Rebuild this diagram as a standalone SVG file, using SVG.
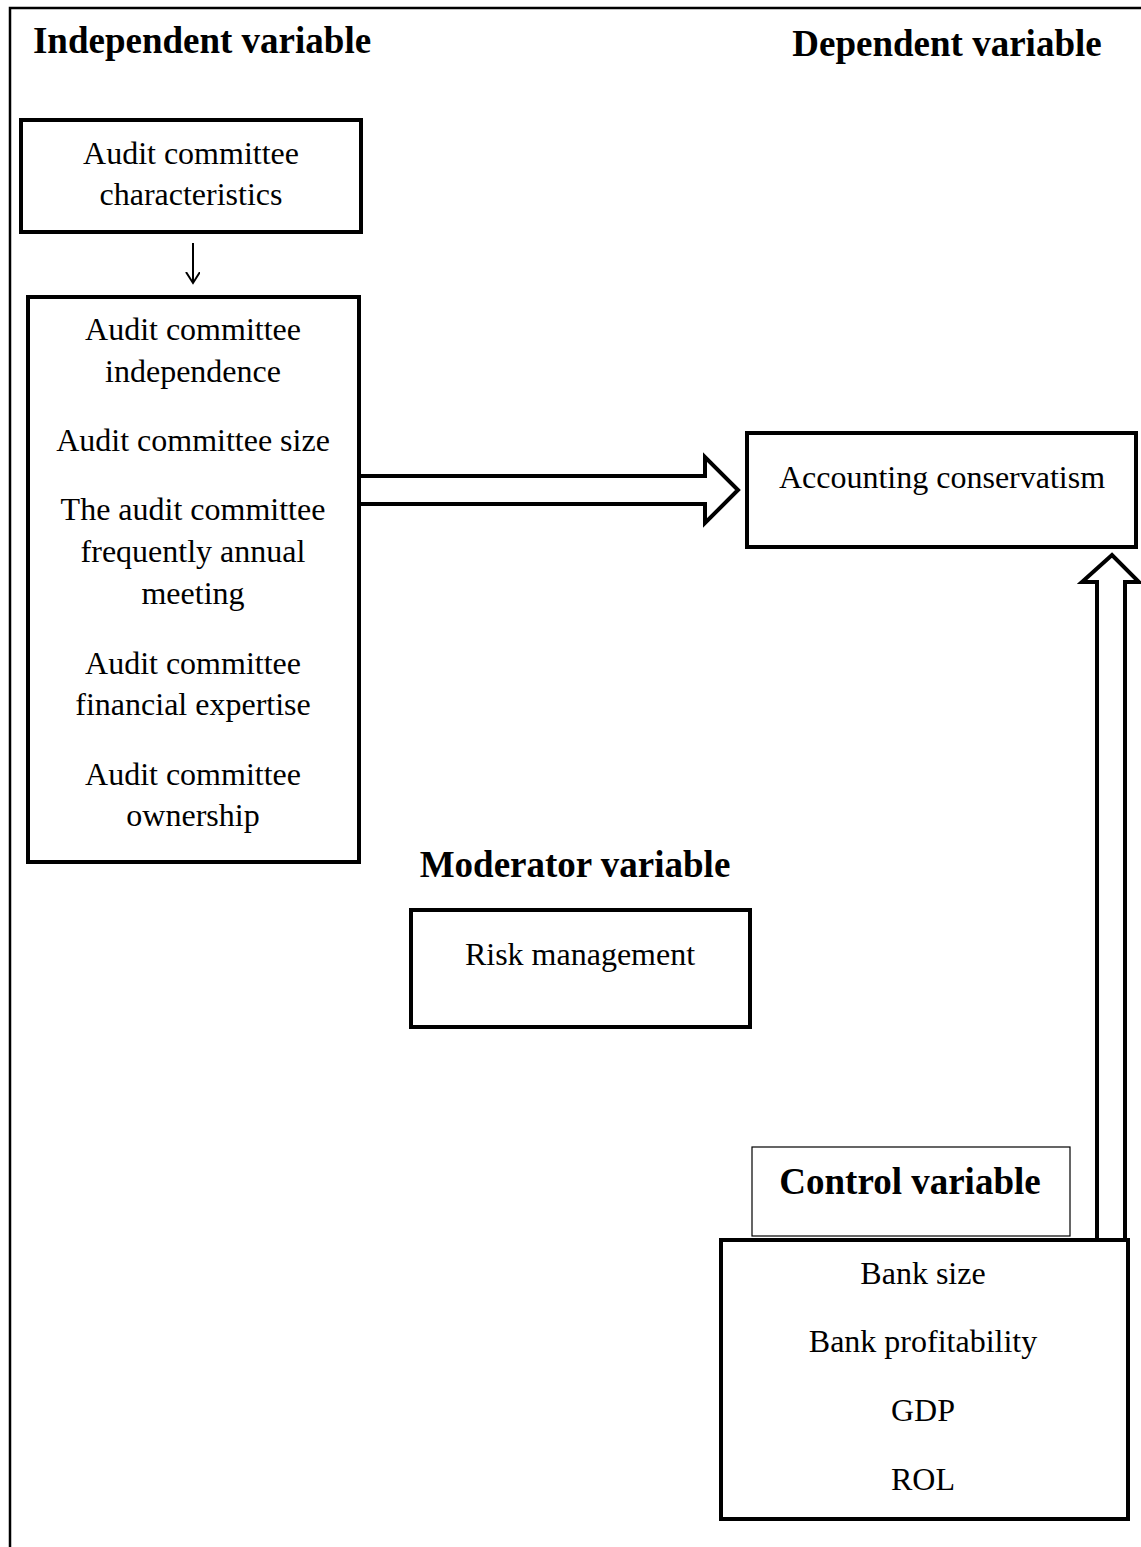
<svg xmlns="http://www.w3.org/2000/svg" width="1141" height="1547" viewBox="0 0 1141 1547">
<style>
.t{font-family:"Liberation Serif","Times New Roman",serif;font-size:32px;fill:#000;text-anchor:middle}
.h{font-family:"Liberation Serif","Times New Roman",serif;font-size:37px;font-weight:bold;fill:#000;text-anchor:middle}
.box{fill:#fff;stroke:#000;stroke-width:4}
.thin{fill:#fff;stroke:#000;stroke-width:1.2}
.arr{fill:#fff;stroke:#000;stroke-width:4;stroke-linejoin:miter}
</style>
<defs>
<marker id="ah" markerWidth="14" markerHeight="16" refX="11" refY="7" orient="auto" markerUnits="userSpaceOnUse">
<path d="M0,0 L11,7 L0,14" fill="none" stroke="#000" stroke-width="2"/>
</marker>
</defs>
<rect width="1141" height="1547" fill="#fff"/>
<g id="frame">
<path d="M10,1547 V8 H1141" fill="none" stroke="#000" stroke-width="2.5"/>
</g>
<g id="headings">
<text class="h" x="202" y="53">Independent variable</text>
<text class="h" x="947" y="56">Dependent variable</text>
<text class="h" x="575" y="877">Moderator variable</text>
</g>
<g id="connectors">
<line x1="193" y1="243" x2="193" y2="283" stroke="#000" stroke-width="2" marker-end="url(#ah)"/>
<path class="arr" d="M360,476 H705 V457 L738,490 L705,523 V504 H360"/>
<path class="arr" d="M1097,1240 V582 H1082 L1112,555 L1139,582 H1125 V1240"/>
</g>
<g id="node-characteristics">
<rect class="box" x="21" y="120" width="340" height="112"/>
<text class="t" x="191" y="164">Audit committee</text>
<text class="t" x="191" y="205">characteristics</text>
</g>
<g id="node-independent">
<rect class="box" x="28" y="297" width="331" height="565"/>
<text class="t" x="193" y="340">Audit committee</text>
<text class="t" x="193" y="382">independence</text>
<text class="t" x="193" y="451">Audit committee size</text>
<text class="t" x="193" y="520">The audit committee</text>
<text class="t" x="193" y="562">frequently annual</text>
<text class="t" x="193" y="604">meeting</text>
<text class="t" x="193" y="674">Audit committee</text>
<text class="t" x="193" y="715">financial expertise</text>
<text class="t" x="193" y="785">Audit committee</text>
<text class="t" x="193" y="826">ownership</text>
</g>
<g id="node-dependent">
<rect class="box" x="747" y="433" width="389" height="114"/>
<text class="t" x="942" y="488">Accounting conservatism</text>
</g>
<g id="node-moderator">
<rect class="box" x="411" y="910" width="339" height="117"/>
<text class="t" x="580" y="965">Risk management</text>
</g>
<g id="node-control-label">
<rect class="thin" x="752" y="1147" width="318" height="89"/>
<text class="h" x="910" y="1194">Control variable</text>
</g>
<g id="node-control">
<rect class="box" x="721" y="1240" width="407" height="279"/>
<text class="t" x="923" y="1284">Bank size</text>
<text class="t" x="923" y="1352">Bank profitability</text>
<text class="t" x="923" y="1421">GDP</text>
<text class="t" x="923" y="1490">ROL</text>
</g>
</svg>
